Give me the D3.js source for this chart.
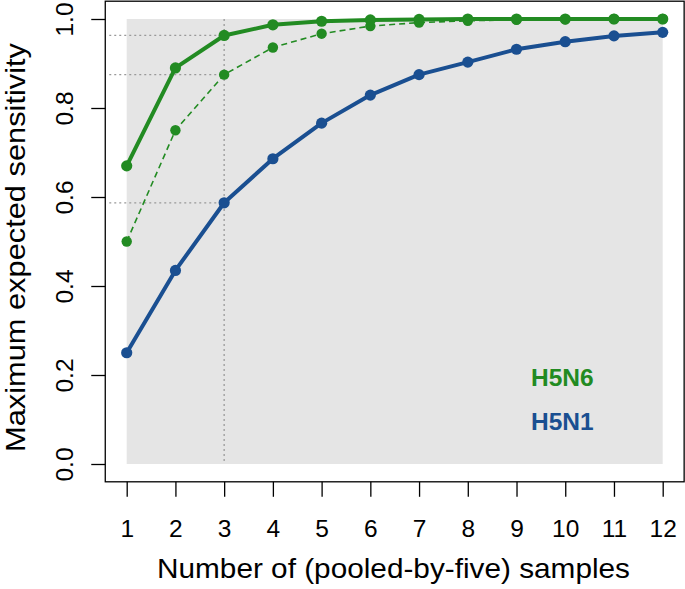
<!DOCTYPE html>
<html><head><meta charset="utf-8">
<script src="https://cdn.jsdelivr.net/npm/d3@7"></script>
<style>body{margin:0;background:#fff}svg{display:block}text{font-family:"Liberation Sans",Arial,sans-serif}</style>
</head><body><svg id="c" width="685" height="589"></svg>
<script>
const samples = [1,2,3,4,5,6,7,8,9,10,11,12];
const h5n6Solid = [0.670,0.890,0.963,0.987,0.995,0.998,0.999,1.000,1.000,1.000,1.000,1.000];
const h5n6Dashed = [0.500,0.750,0.875,0.936,0.967,0.984,0.992,0.996,0.998,0.999,1.000,1.000];
const h5n1Solid = [0.250,0.435,0.587,0.686,0.766,0.829,0.875,0.903,0.932,0.949,0.962,0.970];
const yTicks = [0.0,0.2,0.4,0.6,0.8,1.0];
const refX = 3;
const legendLabels = ["H5N6","H5N1"];

const green = "#228b22", blue = "#1a4f91";
const svg = d3.select("#c");
const x = d3.scaleLinear().domain([1,12]).range([126.7,662.7]);
const y = d3.scaleLinear().domain([0,1]).range([464,19]);
const [x0,x1] = x.range(), [y0,y1] = y.range();
const padX = (x1-x0)*0.04, padY = (y0-y1)*0.04;
const bx0 = x0-padX, bx1 = x1+padX, by0 = y1-padY, by1 = y0+padY;

svg.append("rect").attr("x",x0).attr("y",y1).attr("width",x1-x0).attr("height",y0-y1).attr("fill","#e5e5e5");

const refIdx = samples.indexOf(refX);
svg.append("line").attr("x1",x(refX)).attr("x2",x(refX)).attr("y1",y1).attr("y2",y0)
  .attr("stroke","#999").attr("stroke-width",1.3).attr("stroke-dasharray","2,3");
[h5n6Solid,h5n6Dashed,h5n1Solid].forEach(s=>{
  svg.append("line").attr("x1",bx0+4).attr("x2",x(refX)).attr("y1",y(s[refIdx])).attr("y2",y(s[refIdx]))
    .attr("stroke","#999").attr("stroke-width",1.3).attr("stroke-dasharray","2,3");
});

const line = d3.line().x((d,i)=>x(samples[i])).y(d=>y(d));
function series(vals,color,w,dash,r){
  const p = svg.append("path").datum(vals).attr("d",line).attr("fill","none")
    .attr("stroke",color).attr("stroke-width",w).attr("stroke-linejoin","round");
  if(dash) p.attr("stroke-dasharray",dash);
  svg.append("g").selectAll("circle").data(vals).join("circle")
    .attr("cx",(d,i)=>x(samples[i])).attr("cy",d=>y(d)).attr("r",r).attr("fill",color);
}
series(h5n6Dashed,green,1.6,"6,4",5.2);
series(h5n1Solid,blue,4,null,5.6);
series(h5n6Solid,green,4,null,5.6);

svg.append("rect").attr("x",bx0).attr("y",by0).attr("width",bx1-bx0).attr("height",by1-by0)
  .attr("fill","none").attr("stroke","#000").attr("stroke-width",1.3);

const xa = svg.append("g").attr("transform",`translate(0,${by1})`)
  .call(d3.axisBottom(x).tickValues(samples).tickSize(15).tickFormat(d3.format("d")));
xa.select(".domain").remove();
xa.selectAll("line").attr("stroke-width",1.3);
xa.selectAll("text").attr("font-size",24.5).attr("fill","#000").attr("dy",null).attr("y",55);

const ya = svg.append("g").attr("transform",`translate(${bx0},0)`)
  .call(d3.axisLeft(y).tickValues(yTicks).tickSize(14).tickFormat(d3.format(".1f")));
ya.select(".domain").remove();
ya.selectAll("line").attr("stroke-width",1.3);
ya.selectAll("text").attr("font-size",24.5).attr("fill","#000").attr("x",null).attr("dy",null)
  .attr("text-anchor","middle").attr("transform","translate(-32,0) rotate(-90)");

svg.append("text").attr("x",393.5).attr("y",578).attr("text-anchor","middle")
  .attr("font-size",28).attr("textLength",473).attr("lengthAdjust","spacingAndGlyphs")
  .text("Number of (pooled-by-five) samples");
svg.append("text").attr("transform","translate(25,247.5) rotate(-90)").attr("text-anchor","middle")
  .attr("font-size",28).attr("textLength",409).attr("lengthAdjust","spacingAndGlyphs")
  .text("Maximum expected sensitivity");

svg.append("text").attr("x",531).attr("y",385.5).attr("font-size",24.5).attr("font-weight","bold")
  .attr("fill",green).text(legendLabels[0]);
svg.append("text").attr("x",531).attr("y",430).attr("font-size",24.5).attr("font-weight","bold")
  .attr("fill",blue).text(legendLabels[1]);
</script></body></html>
